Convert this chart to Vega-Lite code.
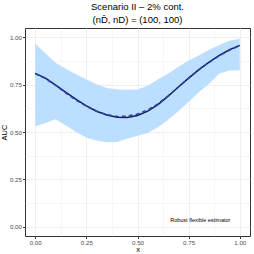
{
  "$schema": "https://vega.github.io/schema/vega-lite/v6.json",
  "autosize": "none",
  "width": 225,
  "height": 208,
  "padding": {"left": 25, "top": 28, "right": 4, "bottom": 18},
  "background": "white",
  "config": {
    "font": "Liberation Sans",
    "view": {"stroke": "#333333", "strokeWidth": 1},
    "axis": {"gridColor": "#EBEBEB", "gridWidth": 0.8, "domain": false, "labelFont": "Liberation Sans", "titleFont": "Liberation Sans"}
  },
  "title": {
    "text": "Scenario II – 2% cont.",
    "subtitle": "(nD̄, nD) = (100, 100)",
    "fontSize": 9.5,
    "subtitleFontSize": 9.5,
    "fontWeight": "normal",
    "color": "#000000",
    "subtitleColor": "#000000",
    "anchor": "middle",
    "offset": 4,
    "subtitlePadding": 3
  },
  "data": {
    "values": [
      {"x": 0.00, "truth": 0.810, "est": 0.808, "lo": 0.530, "hi": 0.968},
      {"x": 0.05, "truth": 0.785, "est": 0.783, "lo": 0.548, "hi": 0.915},
      {"x": 0.10, "truth": 0.748, "est": 0.746, "lo": 0.567, "hi": 0.866},
      {"x": 0.15, "truth": 0.710, "est": 0.706, "lo": 0.535, "hi": 0.835},
      {"x": 0.20, "truth": 0.672, "est": 0.668, "lo": 0.500, "hi": 0.805},
      {"x": 0.25, "truth": 0.638, "est": 0.636, "lo": 0.470, "hi": 0.778},
      {"x": 0.30, "truth": 0.610, "est": 0.610, "lo": 0.455, "hi": 0.752},
      {"x": 0.35, "truth": 0.590, "est": 0.592, "lo": 0.446, "hi": 0.733},
      {"x": 0.40, "truth": 0.578, "est": 0.582, "lo": 0.447, "hi": 0.725},
      {"x": 0.45, "truth": 0.577, "est": 0.584, "lo": 0.465, "hi": 0.723},
      {"x": 0.50, "truth": 0.587, "est": 0.595, "lo": 0.480, "hi": 0.725},
      {"x": 0.55, "truth": 0.610, "est": 0.617, "lo": 0.495, "hi": 0.745},
      {"x": 0.60, "truth": 0.645, "est": 0.649, "lo": 0.525, "hi": 0.778},
      {"x": 0.65, "truth": 0.690, "est": 0.691, "lo": 0.565, "hi": 0.810},
      {"x": 0.70, "truth": 0.738, "est": 0.738, "lo": 0.610, "hi": 0.845},
      {"x": 0.75, "truth": 0.785, "est": 0.785, "lo": 0.660, "hi": 0.878},
      {"x": 0.80, "truth": 0.830, "est": 0.829, "lo": 0.710, "hi": 0.905},
      {"x": 0.85, "truth": 0.870, "est": 0.868, "lo": 0.755, "hi": 0.935},
      {"x": 0.90, "truth": 0.905, "est": 0.903, "lo": 0.810, "hi": 0.960},
      {"x": 0.95, "truth": 0.935, "est": 0.933, "lo": 0.825, "hi": 0.982},
      {"x": 1.00, "truth": 0.958, "est": 0.957, "lo": 0.827, "hi": 0.993}
    ]
  },
  "resolve": {"axis": {"x": "independent", "y": "independent"}},
  "layer": [
    {
      "mark": {"type": "area", "color": "#BDDFFF", "opacity": 1},
      "encoding": {
        "x": {"field": "x", "type": "quantitative", "scale": {"domain": [-0.05, 1.05], "nice": false, "zero": false},
          "axis": {"orient": "top", "values": [0.125, 0.375, 0.625, 0.875], "labels": false, "ticks": false, "domain": false, "title": null, "grid": true, "gridWidth": 0.4}},
        "y": {"field": "lo", "type": "quantitative", "scale": {"domain": [-0.05, 1.05], "nice": false, "zero": false},
          "axis": {"orient": "right", "values": [0.125, 0.375, 0.625, 0.875], "labels": false, "ticks": false, "domain": false, "title": null, "grid": true, "gridWidth": 0.4}},
        "y2": {"field": "hi"}
      }
    },
    {
      "mark": {"type": "line", "color": "#161D4F", "strokeWidth": 1.5},
      "encoding": {
        "x": {"field": "x", "type": "quantitative",
          "axis": {"orient": "bottom", "values": [0, 0.25, 0.5, 0.75, 1], "format": ".2f", "labelFontSize": 6.2, "labelColor": "#4D4D4D", "tickColor": "#333333", "tickSize": 2.5, "labelPadding": 0.5, "title": "x", "titleFontSize": 7.5, "titleFontWeight": "normal", "titleColor": "#000000", "titlePadding": 0, "grid": true}},
        "y": {"field": "truth", "type": "quantitative",
          "axis": {"orient": "left", "values": [0, 0.25, 0.5, 0.75, 1], "format": ".2f", "labelFontSize": 6.2, "labelColor": "#4D4D4D", "tickColor": "#333333", "tickSize": 2.5, "labelPadding": 1, "title": "AUC", "titleFontSize": 7.5, "titleFontWeight": "normal", "titleColor": "#000000", "titlePadding": 1, "grid": true}}
      }
    },
    {
      "mark": {"type": "line", "color": "#2A48B5", "strokeWidth": 1.5, "strokeDash": [4, 3]},
      "encoding": {
        "x": {"field": "x", "type": "quantitative", "axis": null},
        "y": {"field": "est", "type": "quantitative", "axis": null}
      }
    },
    {
      "data": {"values": [{"x": 0.807, "y": 0.032, "label": "Robust flexible estimator"}]},
      "mark": {"type": "text", "fontSize": 5.5, "color": "#000000", "align": "center", "baseline": "middle"},
      "encoding": {
        "x": {"field": "x", "type": "quantitative", "axis": null},
        "y": {"field": "y", "type": "quantitative", "axis": null},
        "text": {"field": "label"}
      }
    }
  ]
}
